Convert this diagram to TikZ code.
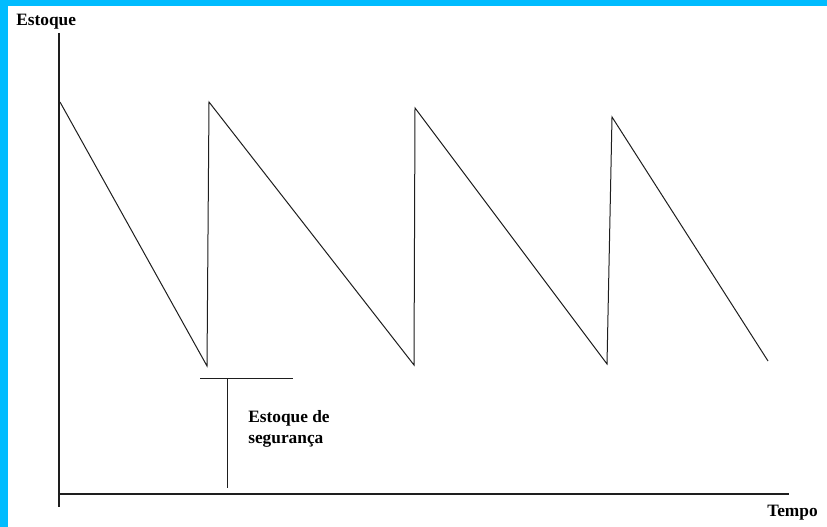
\documentclass[tikz,border=0pt]{standalone}
\usepackage{fontspec}
\setmainfont{Liberation Serif}
\definecolor{framecyan}{RGB}{0, 188, 255}
\definecolor{inkgray}{RGB}{30, 30, 30}
\usepackage{tikz}
\usetikzlibrary{positioning, calc}

\begin{document}
\begin{tikzpicture}[x=0.75pt, y=-0.75pt,
    axisline/.style={draw=inkgray, line width=1.5pt},
    stockline/.style={draw=inkgray, line width=0.75pt},
    label/.style={font=\bfseries\fontsize{13}{15.8}\selectfont, inner sep=0pt, anchor=west, align=left}]
  \useasboundingbox (0,0) rectangle (827,527);
  % Frame
  \fill[white] (0,0) rectangle (827,527);
  \fill[framecyan] (0,0) rectangle (8,527);
  \fill[framecyan] (0,0) rectangle (827,6);

  % Axes
  \coordinate (ytop) at (59,33);
  \coordinate (ybot) at (59,507);
  \coordinate (xleft) at (59,494);
  \coordinate (xright) at (789,494);
  \draw[axisline] (ytop) -- (ybot);
  \draw[axisline] (xleft) -- (xright);
  \node[label] (ylabel) at (16,22) {Estoque};
  \node[label] (xlabel) at (767,513) {Tempo};

  % Stock level over time
  \coordinate (p0) at (60,102);
  \coordinate (v1) at (207,366);
  \coordinate (p1) at (209,102);
  \coordinate (v2) at (414,365);
  \coordinate (p2) at (415,108);
  \coordinate (v3) at (607,364);
  \coordinate (p3) at (612,117);
  \coordinate (v4) at (768,361);
  \draw[stockline] (p0) -- (v1) -- (p1) -- (v2) -- (p2) -- (v3) -- (p3) -- (v4);

  % Safety stock
  \coordinate (ssleft) at (200,378);
  \coordinate (ssright) at (293,378);
  \coordinate (sstop) at (227,378);
  \coordinate (ssbot) at (227,488);
  \draw[stockline] (ssleft) -- (ssright);
  \draw[stockline] (sstop) -- (ssbot);
  \node[label] (sslabel) at (248,429) {Estoque de\\segurança};
\end{tikzpicture}
\end{document}
